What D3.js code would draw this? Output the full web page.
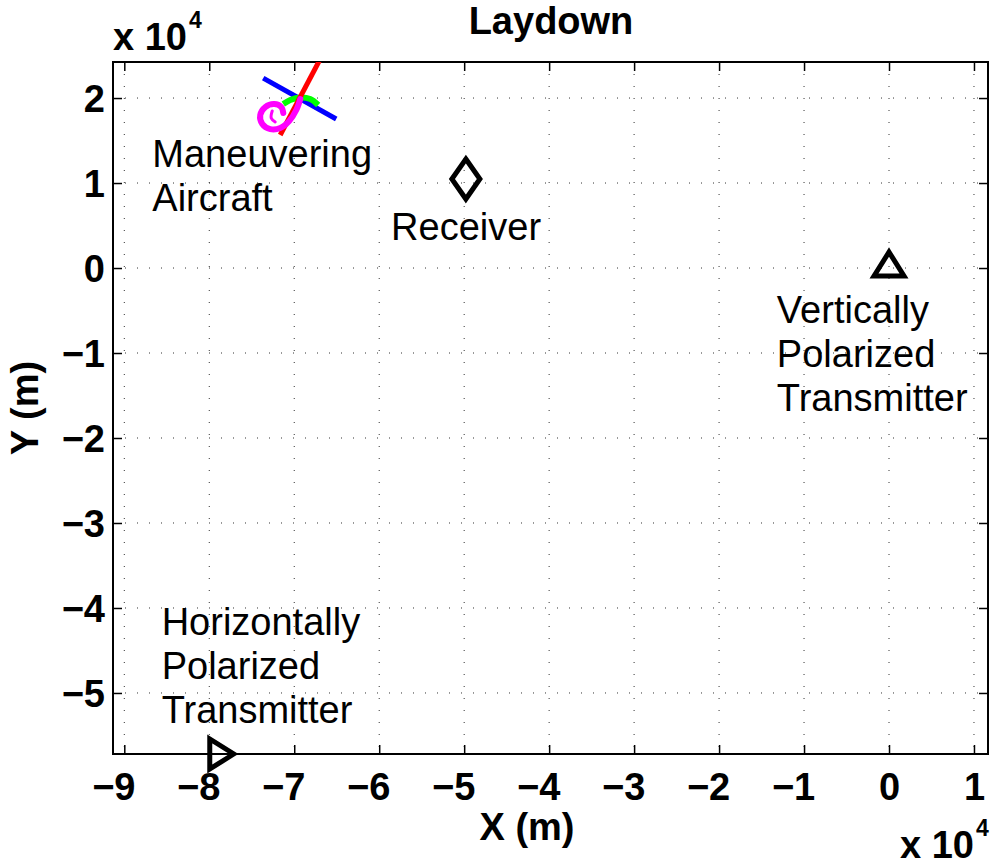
<!DOCTYPE html>
<html>
<head>
<meta charset="utf-8">
<script src="https://cdn.jsdelivr.net/npm/d3@7/dist/d3.min.js"></script>
<style>
  html, body { margin: 0; padding: 0; background: #fff; }
  svg { display: block; }
  text { font-family: "Liberation Sans", Arial, Helvetica, sans-serif; fill: #000; }
</style>
</head>
<body>
<svg id="chart" width="996" height="867"></svg>
<script>
// Axis limits (metres) and tick values
const xLimits = [-91330, 11650];
const yLimits = [-57180, 24240];
const xTicks = [-90000, -80000, -70000, -60000, -50000, -40000, -30000, -20000, -10000, 0, 10000];
const yTicks = [-50000, -40000, -30000, -20000, -10000, 0, 10000, 20000];

// Aircraft body axes and flight path segments (metres)
const aircraftRed = [[-71650, 15650], [-66940, 24590]];
const aircraftBlue = [[-73650, 22350], [-65060, 17530]];
const aircraftGreen = [[-71290, 19290], [-70470, 19760], [-69290, 20060], [-68120, 19880], [-67180, 19180]];
const aircraftMagenta = [[-69290, 19880], [-69760, 18590], [-70590, 17290], [-71650, 16470], [-72820, 16350],
  [-73760, 16940], [-74000, 18000], [-73410, 18940], [-72350, 19290], [-71530, 18940], [-71290, 18240]];
const aircraftMagentaCurl = [[-72590, 18470], [-72710, 17650], [-72240, 17180]];

// Sites
const receiverPos = [-49800, 10470];
const vertTxPos = [0, 0];
const horizTxPos = [-79000, -57180];

// Annotations: first-line anchor (metres), lines
const annotations = [
  { x: -86700, y: 11900, lines: ["Maneuvering", "Aircraft"] },
  { x: -58600, y: 3300, lines: ["Receiver"] },
  { x: -13200, y: -6470, lines: ["Vertically", "Polarized", "Transmitter"] },
  { x: -85600, y: -43200, lines: ["Horizontally", "Polarized", "Transmitter"] }
];

const plot = { left: 113, right: 988, top: 62, bottom: 754 };
const svg = d3.select("#chart");

const x = d3.scaleLinear().domain(xLimits).range([plot.left, plot.right]);
const y = d3.scaleLinear().domain(yLimits).range([plot.bottom, plot.top]);
const fmt = v => { const n = v / 1e4; return n < 0 ? "\u2212" + Math.abs(n) : String(n); };

const plotW = plot.right - plot.left, plotH = plot.bottom - plot.top;
const FS = "38px";

svg.append("defs").append("clipPath").attr("id", "clip")
  .append("rect").attr("x", plot.left).attr("y", plot.top).attr("width", plotW).attr("height", plotH);

// Dotted grid
const grid = svg.append("g").attr("class", "grid");
grid.selectAll("line.gx").data(xTicks).join("line")
  .attr("x1", d => x(d)).attr("x2", d => x(d)).attr("y1", plot.top).attr("y2", plot.bottom);
grid.selectAll("line.gy").data(yTicks).join("line")
  .attr("y1", d => y(d)).attr("y2", d => y(d)).attr("x1", plot.left).attr("x2", plot.right);
grid.selectAll("line").attr("stroke", "#333").attr("stroke-width", 1).attr("stroke-dasharray", "1,11");

// Axes with inward ticks on all sides
const tickLen = 9;
const axB = svg.append("g").attr("transform", `translate(0,${plot.bottom})`)
  .call(d3.axisBottom(x).tickValues(xTicks).tickFormat(fmt).tickSizeInner(-tickLen).tickSizeOuter(0).tickPadding(19));
const axT = svg.append("g").attr("transform", `translate(0,${plot.top})`)
  .call(d3.axisTop(x).tickValues(xTicks).tickFormat("").tickSizeInner(-tickLen).tickSizeOuter(0));
const axL = svg.append("g").attr("transform", `translate(${plot.left},0)`)
  .call(d3.axisLeft(y).tickValues(yTicks).tickFormat(fmt).tickSizeInner(-tickLen).tickSizeOuter(0).tickPadding(8));
const axR = svg.append("g").attr("transform", `translate(${plot.right},0)`)
  .call(d3.axisRight(y).tickValues(yTicks).tickFormat("").tickSizeInner(-tickLen).tickSizeOuter(0));
[axB, axT, axL, axR].forEach(a => {
  a.select(".domain").remove();
  a.selectAll(".tick line").attr("stroke", "#000").attr("stroke-width", 1.5);
  a.selectAll("text").style("font-size", FS).style("font-weight", "bold").attr("fill", "#000");
});
// negative x labels: the digit sits on the tick, the minus hangs to the left
axB.selectAll("text").attr("dy", "0.71em").attr("dx", d => d < 0 ? -11 : 0);
axL.selectAll("text").attr("dy", "0.36em");

// Box
svg.append("rect").attr("x", plot.left).attr("y", plot.top).attr("width", plotW).attr("height", plotH)
  .attr("fill", "none").attr("stroke", "#000").attr("stroke-width", 2);

// Aircraft
const line = d3.line().x(d => x(d[0])).y(d => y(d[1]));
const curve = d3.line().x(d => x(d[0])).y(d => y(d[1])).curve(d3.curveCatmullRom.alpha(0.5));
const air = svg.append("g").attr("clip-path", "url(#clip)").attr("fill", "none")
  .attr("stroke-linecap", "butt").attr("stroke-linejoin", "round");
air.append("path").datum(aircraftBlue).attr("d", line).attr("stroke", "#0000ff").attr("stroke-width", 5);
air.append("path").datum(aircraftGreen).attr("d", curve).attr("stroke", "#00ff00").attr("stroke-width", 6);
air.append("path").datum(aircraftRed).attr("d", line).attr("stroke", "#ff0000").attr("stroke-width", 5);
air.append("path").datum(aircraftMagenta).attr("d", curve).attr("stroke", "#ff00ff").attr("stroke-width", 6)
  .attr("stroke-linecap", "round");
air.append("path").datum(aircraftMagentaCurl).attr("d", curve).attr("stroke", "#ff00ff").attr("stroke-width", 3)
  .attr("stroke-linecap", "round");

// Site markers
const markers = svg.append("g").attr("fill", "none").attr("stroke", "#000").attr("stroke-width", 5)
  .attr("stroke-linejoin", "miter");
markers.append("path")
  .attr("transform", `translate(${x(receiverPos[0])},${y(receiverPos[1])})`)
  .attr("d", "M0,-20L14,0L0,20L-14,0Z");
markers.append("path")
  .attr("transform", `translate(${x(vertTxPos[0])},${y(vertTxPos[1])})`)
  .attr("d", "M0,-16L15,8L-15,8Z");
markers.append("path")
  .attr("transform", `translate(${x(horizTxPos[0])},${y(horizTxPos[1])})`)
  .attr("d", "M16,0L-8,15L-8,-15Z");

// Annotations
const ann = svg.append("g");
annotations.forEach(a => {
  const t = ann.append("text").attr("x", x(a.x)).attr("y", y(a.y)).style("font-size", FS);
  a.lines.forEach((s, i) => t.append("tspan").attr("x", x(a.x)).attr("dy", i === 0 ? 0 : 44).text(s));
});

// Title and axis labels
svg.append("text").attr("x", 551).attr("y", 34).attr("text-anchor", "middle")
  .style("font-size", FS).style("font-weight", "bold").text("Laydown");
svg.append("text").attr("x", 527).attr("y", 840).attr("text-anchor", "middle")
  .style("font-size", FS).style("font-weight", "bold").text("X (m)");
svg.append("text").attr("transform", "translate(38,408) rotate(-90)").attr("text-anchor", "middle")
  .style("font-size", FS).style("font-weight", "bold").text("Y (m)");

// Exponent multipliers
function multiplier(px, py) {
  const t = svg.append("text").attr("x", px).attr("y", py).style("font-size", FS).style("font-weight", "bold");
  t.append("tspan").text("x 10");
  t.append("tspan").attr("dx", 2).attr("dy", -22).style("font-size", "23px").text("4");
}
multiplier(113, 50);
multiplier(900, 858);
</script>
</body>
</html>
